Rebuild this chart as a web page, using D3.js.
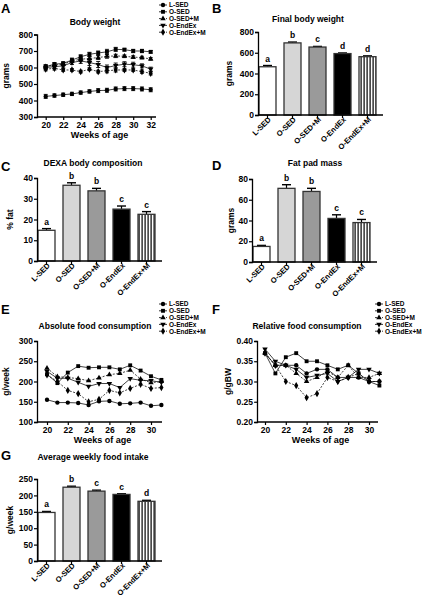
<!DOCTYPE html>
<html><head><meta charset="utf-8">
<script src="https://cdn.jsdelivr.net/npm/d3@7"></script>
<style>
body{margin:0;background:#fff;}
svg{display:block;font-family:"Liberation Sans",Arial,sans-serif;font-weight:bold;}
</style></head>
<body>
<svg id="chart" width="422" height="598"></svg>
<script>
// ---------- DATA ----------
const groups = ["L-SED","O-SED","O-SED+M","O-EndEx","O-EndEx+M"];

// Panel A: body weight (grams), weeks 20-32
const bwWeeks = [20,21,22,23,24,25,26,27,28,29,30,31,32];
const bwLSED    = [425,430,435,440,448,455,460,462,470,472,472,470,465];
const bwOSED    = [605,620,625,645,665,680,688,695,710,708,700,700,695];
const bwOSEDM   = [605,615,620,640,650,655,660,668,670,668,663,660,652];
const bwOEndEx  = [600,605,610,630,640,630,618,600,612,620,617,610,590];
const bwOEndExM = [590,595,585,585,575,590,575,580,585,585,585,575,565];
const bwErrLSED    = [12,10,10,10,10,10,12,12,12,12,12,12,12];
const bwErrOSED    = [12,10,10,12,12,12,12,15,12,8,10,10,8];
const bwErrOSEDM   = [10,10,10,10,12,12,12,12,10,8,8,8,8];
const bwErrOEndEx  = [10,10,12,12,15,18,18,15,15,15,15,12,12];
const bwErrOEndExM = [10,10,8,8,8,8,8,12,12,8,8,10,10];
const bwTicksY = [300,400,500,600,700,800];
const bwTicksX = [20,22,24,26,28,30,32];

// Panel B: final body weight (grams)
const finalBW    = [465,695,655,592,562];
const finalBWErr = [12,8,6,6,8];
const finalBWLetters = ["a","b","c","d","d"];
const finalBWTicks = [0,200,400,600,800];

// Panel C: DEXA % fat
const dexaFat    = [14.8,36.5,33.8,25.0,22.5];
const dexaFatErr = [0.8,1.2,1.2,1.5,1.3];
const dexaLetters = ["a","b","b","c","c"];
const dexaTicks = [0,10,20,30,40];

// Panel D: fat pad mass (grams)
const fatPad    = [15,71,68,42,38];
const fatPadErr = [1,3.5,3,3.5,3];
const fatPadLetters = ["a","b","b","c","c"];
const fatPadTicks = [0,20,40,60,80];

// Panel E: absolute food consumption (g/week), weeks 20-31
const foodWeeks = [20,21,22,23,24,25,26,27,28,29,30,31];
const absLSED    = [155,148,148,147,142,151,152,145,146,148,140,142];
const absOSED    = [218,196,222,238,234,235,235,230,240,227,213,204];
const absOSEDM   = [233,212,210,207,202,209,217,220,228,206,197,200];
const absOEndEx  = [225,208,208,198,188,195,195,185,207,203,202,198];
const absOEndExM = [216,200,178,170,150,156,178,172,183,193,183,185];
const absTicksY = [100,150,200,250,300];
const foodTicksX = [20,22,24,26,28,30];

// Panel F: relative food consumption (g/gBW)
const relLSED    = [0.370,0.340,0.340,0.340,0.320,0.330,0.330,0.310,0.310,0.310,0.300,0.300];
const relOSED    = [0.370,0.320,0.360,0.370,0.350,0.350,0.340,0.330,0.340,0.320,0.300,0.290];
const relOSEDM   = [0.370,0.340,0.340,0.320,0.300,0.310,0.325,0.310,0.340,0.310,0.310,0.320];
const relOEndEx  = [0.380,0.350,0.340,0.330,0.310,0.315,0.320,0.300,0.310,0.330,0.330,0.320];
const relOEndExM = [0.370,0.340,0.300,0.290,0.260,0.270,0.310,0.300,0.310,0.320,0.300,0.300];
const relTicksY = [0.20,0.25,0.30,0.35,0.40];

// Panel G: average weekly food intake (g/week)
const avgFood    = [148,225,213,203,182];
const avgFoodErr = [3,3,3,2,3];
const avgFoodLetters = ["a","b","c","c","d"];
const avgFoodTicks = [0,50,100,150,200,250];

// ---------- DRAWING ----------
const svg = d3.select("#chart");
const defs = svg.append("defs");
const pat = defs.append("pattern").attr("id","stripes").attr("patternUnits","userSpaceOnUse")
  .attr("width",3).attr("height",4);
pat.append("rect").attr("width",3).attr("height",4).attr("fill","#fff");
pat.append("rect").attr("x",0.5).attr("width",1.2).attr("height",4).attr("fill","#000");

const fills = ["#ffffff","#d6d6d6","#9a9a9a","#000000","url(#stripes)"];
const symbols = [d3.symbolCircle,d3.symbolSquare,d3.symbolTriangle,d3.symbolTriangle,d3.symbolDiamond];
const symRot = [0,0,0,180,0];
const symSize = [15,15,13,13,15];
const dashes = [null,null,"2,1.5",null,"2,1.5"];

function text(x,y,str,size,anchor){
  return svg.append("text").attr("x",x).attr("y",y).attr("font-size",size)
    .attr("text-anchor",anchor||"middle").attr("fill","#000").text(str);
}

function yAxis(scale, x, ticks, fmt){
  const g = svg.append("g").attr("transform",`translate(${x},0)`);
  g.call(d3.axisLeft(scale).tickValues(ticks).tickSize(3).tickPadding(1).tickFormat(fmt||d3.format("d")));
  g.selectAll("path").attr("stroke","#000").attr("stroke-width",1.3);
  g.selectAll("line").attr("stroke","#000").attr("stroke-width",1.2);
  g.selectAll("text").attr("font-size",8.5).attr("font-family","Liberation Sans, Arial").attr("font-weight","bold").attr("fill","#000");
  return g;
}

function linePanel(o){
  const x = d3.scaleLinear().domain(o.xd).range(o.xr);
  const y = d3.scaleLinear().domain(o.yd).range(o.yr);
  yAxis(y, o.ax0, o.yTicks, o.yfmt);
  const gx = svg.append("g").attr("transform",`translate(0,${o.yr[0]})`);
  gx.call(d3.axisBottom(x).tickValues(o.xTicks).tickSize(3).tickPadding(2).tickFormat(d3.format("d")));
  gx.select("path").remove();
  gx.append("line").attr("x1",o.ax0).attr("x2",o.ax1).attr("stroke","#000").attr("stroke-width",1.3);
  gx.selectAll(".tick line").attr("stroke","#000").attr("stroke-width",1.2);
  gx.selectAll("text").attr("font-size",8.5).attr("font-family","Liberation Sans, Arial").attr("font-weight","bold").attr("fill","#000");
  o.series.forEach((s,i)=>{
    const pts = o.weeks.map((w,j)=>[w,s[j]]);
    svg.append("path").datum(pts)
      .attr("d",d3.line().x(d=>x(d[0])).y(d=>y(d[1])))
      .attr("fill","none").attr("stroke","#111").attr("stroke-width",0.8)
      .attr("stroke-dasharray",dashes[i]);
    if(o.errs){
      const e = o.errs[i];
      o.weeks.forEach((w,j)=>{
        const cx = x(w), y1 = y(s[j]+e[j]), y2 = y(s[j]-e[j]);
        svg.append("line").attr("x1",cx).attr("x2",cx).attr("y1",y1).attr("y2",y2).attr("stroke","#000").attr("stroke-width",0.9);
        [y1,y2].forEach(yy=>svg.append("line").attr("x1",cx-2).attr("x2",cx+2).attr("y1",yy).attr("y2",yy).attr("stroke","#000").attr("stroke-width",0.9));
      });
    }
    svg.append("g").selectAll("path").data(pts).join("path")
      .attr("d",d3.symbol().type(symbols[i]).size(symSize[i]))
      .attr("transform",d=>`translate(${x(d[0])},${y(d[1])}) rotate(${symRot[i]})`)
      .attr("fill","#000");
  });
  text(o.titleX,o.titleY,o.title,8.5);
  text((o.ax0+o.ax1)/2+3,o.xlabY,"Weeks of age",9);
  svg.append("text").attr("transform",`translate(${o.ylabX},${(o.yr[0]+o.yr[1])/2}) rotate(-90)`)
    .attr("text-anchor","middle").attr("font-size",8.5).text(o.ylab);
  groups.forEach((gname,i)=>{
    const ly = o.legY + i*6.8;
    svg.append("line").attr("x1",o.legX-4).attr("x2",o.legX+4).attr("y1",ly).attr("y2",ly)
      .attr("stroke","#000").attr("stroke-width",0.8).attr("stroke-dasharray",dashes[i]);
    svg.append("path").attr("d",d3.symbol().type(symbols[i]).size(symSize[i]))
      .attr("transform",`translate(${o.legX},${ly}) rotate(${symRot[i]})`).attr("fill","#000");
    text(o.legX+6,ly+2.3,gname,6.5,"start");
  });
  text(o.letX,o.letY,o.letter,13,"start");
}

function barPanel(o){
  const x = d3.scaleBand().domain(groups).range([o.ax0+1,o.ax0+118]).paddingInner(0.32).paddingOuter(0).align(0);
  const y = d3.scaleLinear().domain(o.yd).range(o.yr);
  const bw = x.bandwidth();
  groups.forEach((gname,i)=>{
    const bx = x(gname);
    const top = y(o.vals[i]);
    const ey = y(o.vals[i]+o.errs[i]);
    svg.append("line").attr("x1",bx+bw/2).attr("x2",bx+bw/2).attr("y1",top).attr("y2",ey).attr("stroke","#000").attr("stroke-width",1.2);
    svg.append("line").attr("x1",bx+bw/2-4.5).attr("x2",bx+bw/2+4.5).attr("y1",ey).attr("y2",ey).attr("stroke","#000").attr("stroke-width",1.4);
    svg.append("rect").attr("x",bx).attr("y",top).attr("width",bw).attr("height",y(o.yd[0])-top)
      .attr("fill",fills[i]).attr("stroke","#333").attr("stroke-width",1.3);
    text(bx+bw/2,ey-4,o.letters[i],8.5);
    svg.append("text").attr("transform",`translate(${bx+bw/2+4},${o.yr[0]+5}) rotate(-45)`)
      .attr("text-anchor","end").attr("font-size",7.6).text(gname);
  });
  yAxis(y,o.ax0,o.yTicks);
  svg.append("line").attr("x1",o.ax0).attr("x2",o.ax0+125).attr("y1",o.yr[0]).attr("y2",o.yr[0]).attr("stroke","#000").attr("stroke-width",1.3);
  groups.forEach(gname=>{
    const cx = x(gname)+bw/2;
    svg.append("line").attr("x1",cx).attr("x2",cx).attr("y1",o.yr[0]).attr("y2",o.yr[0]+3).attr("stroke","#000").attr("stroke-width",1.2);
  });
  text(o.titleX,o.titleY,o.title,8.5);
  svg.append("text").attr("transform",`translate(${o.ylabX},${(o.yr[0]+o.yr[1])/2}) rotate(-90)`)
    .attr("text-anchor","middle").attr("font-size",8.5).text(o.ylab);
  text(o.letX,o.letY,o.letter,13,"start");
}

linePanel({weeks:bwWeeks, series:[bwLSED,bwOSED,bwOSEDM,bwOEndEx,bwOEndExM],
  errs:[bwErrLSED,bwErrOSED,bwErrOSEDM,bwErrOEndEx,bwErrOEndExM],
  xd:[20,32], xr:[45.7,150.7], yd:[300,800], yr:[117,34.5], ax0:37, ax1:156,
  yTicks:bwTicksY, xTicks:bwTicksX, title:"Body weight", titleX:95, titleY:25,
  xlabY:138, ylab:"grams", ylabX:9, legX:163, legY:5, letter:"A", letX:1, letY:13});

barPanel({vals:finalBW, errs:finalBWErr, letters:finalBWLetters, yd:[0,800], yr:[115,32],
  yTicks:finalBWTicks, ax0:258, title:"Final body weight", titleX:308, titleY:22,
  ylab:"grams", ylabX:232, letter:"B", letX:212, letY:13});

barPanel({vals:dexaFat, errs:dexaFatErr, letters:dexaLetters, yd:[0,40], yr:[261,178],
  yTicks:dexaTicks, ax0:37, title:"DEXA body composition", titleX:93, titleY:166,
  ylab:"% fat", ylabX:13, letter:"C", letX:1, letY:171});

barPanel({vals:fatPad, errs:fatPadErr, letters:fatPadLetters, yd:[0,80], yr:[262,179],
  yTicks:fatPadTicks, ax0:252, title:"Fat pad mass", titleX:315, titleY:166,
  ylab:"grams", ylabX:234, letter:"D", letX:212, letY:170});

linePanel({weeks:foodWeeks, series:[absLSED,absOSED,absOSEDM,absOEndEx,absOEndExM],
  xd:[20,30], xr:[47,151], yd:[100,300], yr:[422,341], ax0:37, ax1:162,
  yTicks:absTicksY, xTicks:foodTicksX, title:"Absolute food consumption", titleX:95, titleY:329,
  xlabY:443, ylab:"g/week", ylabX:9, legX:163, legY:304, letter:"E", letX:1, letY:314});

linePanel({weeks:foodWeeks, series:[relLSED,relOSED,relOSEDM,relOEndEx,relOEndExM],
  xd:[20,30], xr:[265,369], yd:[0.2,0.4], yr:[422,341], ax0:257, ax1:378, yfmt:d3.format(".2f"),
  yTicks:relTicksY, xTicks:foodTicksX, title:"Relative food consumption", titleX:307, titleY:329,
  xlabY:443, ylab:"g/gBW", ylabX:231, legX:379, legY:304, letter:"F", letX:212, letY:314});

barPanel({vals:avgFood, errs:avgFoodErr, letters:avgFoodLetters, yd:[0,250], yr:[561,479],
  yTicks:avgFoodTicks, ax0:37, title:"Average weekly food intake", titleX:93, titleY:460,
  ylab:"g/week", ylabX:13, letter:"G", letX:1, letY:460});
</script>
</body></html>
